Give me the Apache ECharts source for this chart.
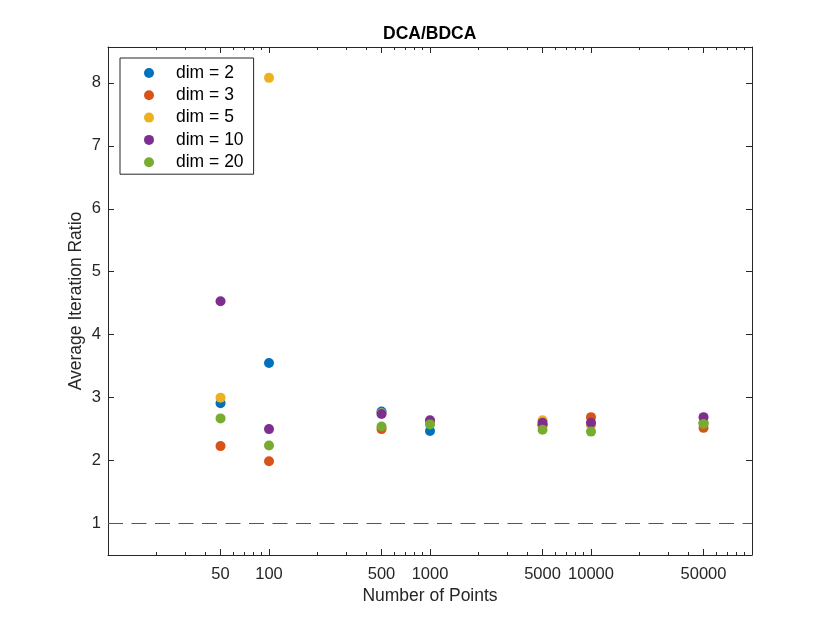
<!DOCTYPE html>
<html>
<head>
<meta charset="utf-8">
<title>DCA/BDCA</title>
<script src="https://cdn.jsdelivr.net/npm/echarts@6/dist/echarts.min.js"></script>
<style>
    html, body { margin: 0; padding: 0; background: #fff; }
    #main { width: 830px; height: 623px; }
</style>
</head>
<body>
<div id="main"></div>
<script>
// 数据 ------------------------------------------------
var points = [50, 100, 500, 1000, 5000, 10000, 50000];
var dim2 = [2.91, 3.55, 2.78, 2.47, 2.57, 2.58, 2.60];
var dim3 = [2.23, 1.99, 2.50, 2.60, 2.56, 2.69, 2.52];
var dim5 = [3.00, 8.08, 2.75, 2.62, 2.64, 2.56, 2.60];
var dim10 = [4.53, 2.50, 2.74, 2.64, 2.60, 2.60, 2.69];
var dim20 = [2.67, 2.24, 2.54, 2.575, 2.49, 2.46, 2.58];
var names = ['dim = 2', 'dim = 3', 'dim = 5', 'dim = 10', 'dim = 20'];
var colors = ['#0072BD', '#D95319', '#EDB120', '#7E2F8E', '#77AC30'];

// 刻度
var xTicks = [50, 100, 500, 1000, 5000, 10000, 50000];
var xMinorTicks = [20, 30, 40, 60, 70, 80, 90,
    200, 300, 400, 600, 700, 800, 900,
    2000, 3000, 4000, 6000, 7000, 8000, 9000,
    20000, 30000, 40000, 60000, 70000, 80000, 90000];
var yTicks = [1, 2, 3, 4, 5, 6, 7, 8];

var font = 'Liberation Sans, Arial, Helvetica, sans-serif';
var axisColor = '#262626';

function toPairs(ys) {
    var out = [];
    for (var i = 0; i < points.length; i++) out.push([points[i], ys[i]]);
    return out;
}
var allSeries = [dim2, dim3, dim5, dim10, dim20];

var myChart = echarts.init(document.getElementById('main'));

// 坐标轴公共部分
function logAxis(grid, pos, ticks, len, showLine) {
    return {
        type: 'log',
        logBase: 10,
        gridIndex: grid,
        position: pos,
        min: 10,
        max: 100000,
        axisLine: { show: showLine, lineStyle: { color: axisColor, width: 1 } },
        axisTick: { show: true, inside: true, length: len, customValues: ticks, lineStyle: { color: axisColor, width: 1 } },
        axisLabel: { show: false },
        splitLine: { show: false },
        minorTick: { show: false }
    };
}

var xBottom = logAxis(0, 'bottom', xTicks, 6, true);
xBottom.axisLabel = {
    show: true,
    customValues: xTicks,
    margin: 11,
    color: axisColor,
    fontSize: 16.5,
    fontFamily: font,
    formatter: function (v) { return String(Math.round(v)); }
};
xBottom.name = 'Number of Points';
xBottom.nameLocation = 'middle';
xBottom.nameGap = 32;
xBottom.nameMoveOverlap = false;
xBottom.nameTextStyle = { color: axisColor, fontSize: 17.5, fontFamily: font };

var xTop = logAxis(0, 'top', xTicks, 6, true);
var xBottomMinor = logAxis(1, 'bottom', xMinorTicks, 3, false);
var xTopMinor = logAxis(1, 'top', xMinorTicks, 3, false);

var series = [];
for (var k = 0; k < allSeries.length; k++) {
    series.push({
        name: names[k],
        type: 'scatter',
        xAxisIndex: 0,
        yAxisIndex: 0,
        symbol: 'circle',
        symbolSize: 10,
        itemStyle: { color: colors[k], opacity: 1 },
        data: toPairs(allSeries[k])
    });
}
// y = 1 虚线
series[0].markLine = {
    silent: true,
    symbol: 'none',
    label: { show: false },
    lineStyle: { color: '#555', width: 1, type: [15, 8.5] },
    data: [{ yAxis: 1 }]
};

var option = {
    animation: false,
    backgroundColor: '#fff',
    title: {
        text: 'DCA/BDCA',
        left: 383,
        top: 25,
        padding: 0,
        textStyle: { color: '#000', fontSize: 17.5, fontWeight: 'bold', fontFamily: font }
    },
    legend: {
        orient: 'vertical',
        left: 120,
        top: 58,
        data: names,
        icon: 'circle',
        itemWidth: 44,
        itemHeight: 10,
        itemGap: 4.3,
        padding: [6, 10, 3, 24],
        backgroundColor: '#fff',
        borderColor: axisColor,
        borderWidth: 1,
        borderRadius: 0,
        textStyle: { color: '#000', fontSize: 17.5, fontFamily: font }
    },
    grid: [
        { left: 108, top: 47, width: 644, height: 508, containLabel: false, outerBoundsMode: 'none' },
        { left: 108, top: 47, width: 644, height: 508, containLabel: false, outerBoundsMode: 'none' }
    ],
    xAxis: [xBottom, xTop, xBottomMinor, xTopMinor],
    yAxis: [
        {
            type: 'value',
            gridIndex: 0,
            position: 'left',
            min: 0.5,
            max: 8.57,
            name: 'Average Iteration Ratio',
            nameLocation: 'middle',
            nameGap: 23,
            nameMoveOverlap: false,
            nameTextStyle: { color: axisColor, fontSize: 17.5, fontFamily: font },
            axisLine: { show: true, lineStyle: { color: axisColor, width: 1 } },
            axisTick: { show: true, inside: true, length: 6, customValues: yTicks, lineStyle: { color: axisColor } },
            axisLabel: { customValues: yTicks, margin: 7, color: axisColor, fontSize: 16.5, fontFamily: font },
            splitLine: { show: false }
        },
        {
            type: 'value',
            gridIndex: 0,
            position: 'right',
            min: 0.5,
            max: 8.57,
            axisLine: { show: true, lineStyle: { color: axisColor, width: 1 } },
            axisTick: { show: true, inside: true, length: 6, customValues: yTicks, lineStyle: { color: axisColor } },
            axisLabel: { show: false },
            splitLine: { show: false }
        },
        {
            type: 'value',
            gridIndex: 1,
            min: 0.5,
            max: 8.57,
            show: false
        }
    ],
    series: series
};

myChart.setOption(option);
window.addEventListener("resize", function () {
    myChart.resize();
});
</script>
</body>
</html>
